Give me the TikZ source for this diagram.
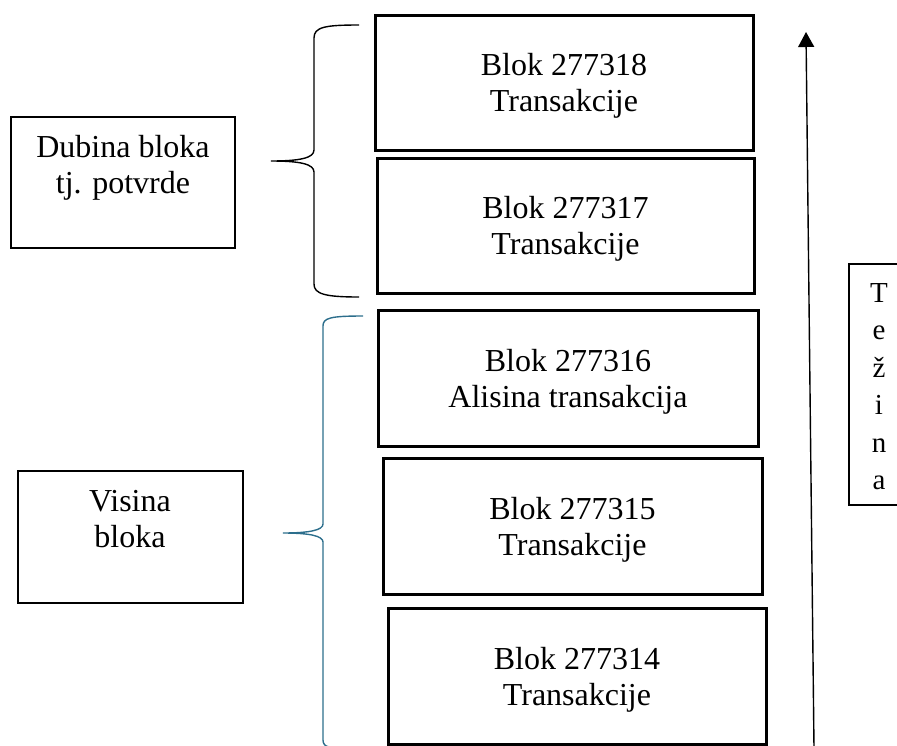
\documentclass[tikz,border=0pt]{standalone}
\usepackage{fontspec}
\setmainfont{Liberation Serif}
\usetikzlibrary{arrows.meta}
\definecolor{braceblue}{RGB}{44,110,140}
\tikzset{
  blockbox/.style={draw=black, line width=3pt, minimum width=#1, minimum height=136pt, inner sep=0pt},
  infobox/.style={draw=black, line width=1.3pt, inner sep=0pt},
  txt/.style={align=center, inner sep=0pt, font=\fontsize{32}{36}\selectfont},
  bracepath/.style={line width=1.4pt},
}
\begin{document}
\begin{tikzpicture}[x=1pt, y=-1pt]
\useasboundingbox (0,0) rectangle (897,745);
\clip (0,0) rectangle (897,745);
% block boxes
\node[blockbox=378pt, minimum height=135pt] (b1) at (564,82.5) {};
\node[blockbox=377pt, minimum height=135pt] (b2) at (565.5,225.5) {};
\node[blockbox=380pt] (b3) at (568,378) {};
\node[blockbox=379pt] (b4) at (572.5,526) {};
\node[blockbox=378pt] (b5) at (577,676) {};
\node[txt] (t1) at ([yshift=-3pt]b1.center) {Blok 277318\\Transakcije};
\node[txt] (t2) at ([yshift=-3pt]b2.center) {Blok 277317\\Transakcije};
\node[txt] (t3) at ([yshift=-4pt]b3.center) {Blok 277316\\Alisina transakcija};
\node[txt] (t4) at ([yshift=-4pt]b4.center) {Blok 277315\\Transakcije};
\node[txt] (t5) at ([yshift=-4pt]b5.center) {Blok 277314\\Transakcije};
% left info boxes
\node[infobox, minimum width=224pt, minimum height=131pt] (l1) at (123,182.5) {};
\node[txt, anchor=north] (l1t) at (123,135) {Dubina bloka\\tj. potvrde};
\node[infobox, minimum width=225pt, minimum height=132pt] (l2) at (130.5,537) {};
\node[txt, anchor=north] (l2t) at (130,490) {Visina\\bloka};
% Tezina box
\node[infobox, minimum width=60pt, minimum height=241pt, align=center,
      font=\fontsize{29}{37.5}\selectfont] (tz) at (879,384.5) {};
\node[align=center, inner sep=0pt, font=\fontsize{29}{37.5}\selectfont] (tzt)
      at ([yshift=-2pt]tz.center) {T\\e\\ž\\i\\n\\a};
% braces
\draw[bracepath, black] (359,25) .. controls (325,25) and (314,27) .. (314,38)
  -- (314,150) .. controls (314,158) and (300,161) .. (271,161)
  .. controls (300,161) and (314,164) .. (314,172)
  -- (314,284) .. controls (314,294) and (325,297) .. (359,297);
\draw[bracepath, braceblue] (363,316) .. controls (330,316) and (323,318) .. (323,326)
  -- (323,524) .. controls (323,530) and (310,533) .. (283,533)
  .. controls (310,533) and (323,536) .. (323,542)
  -- (323,740) .. controls (323,744) and (325,746) .. (329,747);
% arrow
\coordinate (abot) at (814,748);
\coordinate (atop) at (806,32);
\draw[line width=1.4pt, -{Triangle[width=16pt,length=15pt]}] (abot) -- (atop);
\end{tikzpicture}
\end{document}
